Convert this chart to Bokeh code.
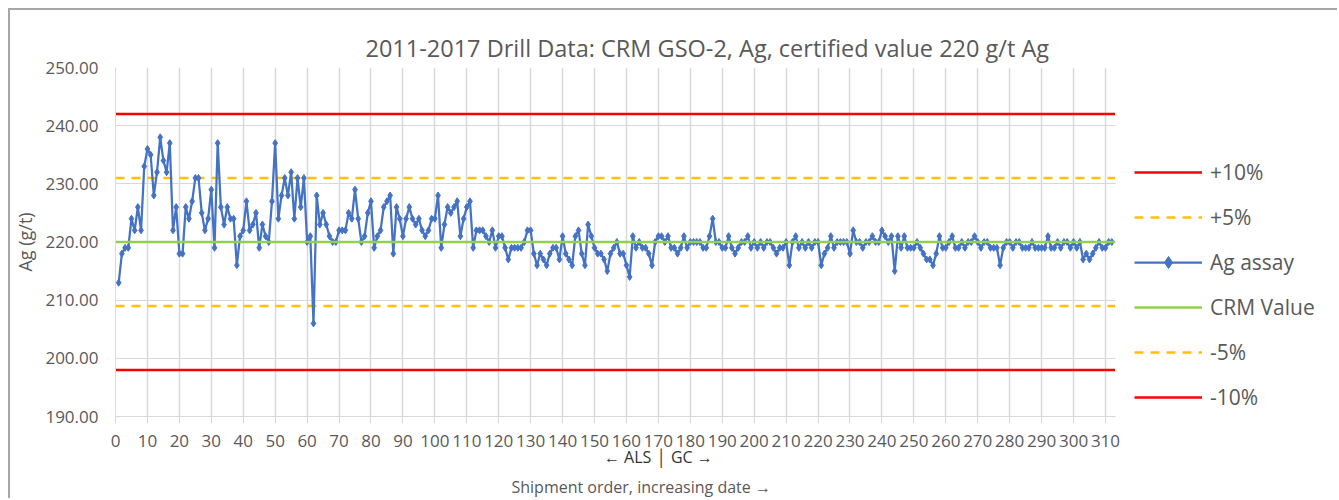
from bokeh.plotting import figure
from bokeh.models import (Range1d, FixedTicker, NumeralTickFormatter, Legend,
                          LegendItem, LinearAxis)
from bokeh.embed import file_html
from bokeh.resources import INLINE

# ---------------- data ----------------
title_text = "2011-2017 Drill Data: CRM GSO-2, Ag, certified value 220 g/t Ag"
x_title = "Shipment order, increasing date \u2192"
y_title = "Ag (g/t)"
lab_split_text = "\u2190 ALS \u2502 GC \u2192"
certified_value = 220
limit_labels = ["+10%", "+5%", "-5%", "-10%"]
limit_pcts = [10, 5, -5, -10]
als_gc_boundary = 170

ag_assay = [
    213, 218, 219, 219, 224, 222, 226, 222, 233, 236,
    235, 228, 232, 238, 234, 232, 237, 222, 226, 218,
    218, 226, 224, 227, 231, 231, 225, 222, 224, 229,
    219, 237, 226, 223, 226, 224, 224, 216, 221, 222,
    227, 222, 223, 225, 219, 223, 221, 220, 227, 237,
    224, 228, 231, 228, 232, 224, 231, 226, 231, 220,
    221, 206, 228, 223, 225, 223, 221, 220, 220, 222,
    222, 222, 225, 224, 229, 224, 220, 221, 225, 227,
    219, 221, 222, 226, 227, 228, 218, 226, 224, 221,
    224, 226, 224, 223, 224, 222, 221, 222, 224, 224,
    228, 219, 223, 226, 225, 226, 227, 221, 224, 226,
    227, 219, 222, 222, 222, 221, 220, 222, 219, 221,
    221, 219, 217, 219, 219, 219, 219, 220, 222, 222,
    218, 216, 218, 217, 216, 218, 219, 219, 217, 221,
    218, 217, 216, 221, 222, 218, 216, 223, 221, 219,
    218, 218, 217, 215, 218, 219, 220, 218, 218, 216,
    214, 221, 219, 220, 219, 219, 218, 216, 220, 221,
    221, 220, 221, 219, 219, 218, 219, 221, 219, 220,
    220, 220, 220, 219, 219, 221, 224, 220, 220, 219,
    219, 221, 219, 218, 219, 220, 220, 221, 219, 220,
    219, 220, 219, 220, 220, 219, 218, 219, 219, 220,
    216, 220, 221, 219, 220, 219, 220, 219, 220, 220,
    216, 218, 219, 221, 219, 220, 220, 220, 220, 218,
    222, 220, 220, 219, 220, 220, 221, 220, 220, 222,
    221, 220, 221, 215, 221, 219, 221, 219, 219, 219,
    220, 219, 218, 217, 217, 216, 218, 221, 219, 219,
    220, 221, 219, 219, 220, 219, 220, 220, 221, 220,
    219, 220, 220, 219, 219, 219, 216, 219, 220, 220,
    219, 220, 220, 219, 219, 219, 220, 219, 219, 219,
    219, 221, 219, 219, 220, 219, 220, 220, 219, 220,
    219, 220, 217, 218, 217, 218, 219, 220, 219, 219,
    220, 220,
]
shipment = list(range(1, len(ag_assay) + 1))

x_ticks = [0, 10, 20, 30, 40, 50, 60, 70, 80, 90, 100, 110, 120, 130, 140, 150,
           160, 170, 180, 190, 200, 210, 220, 230, 240, 250, 260, 270, 280, 290,
           300, 310]
y_ticks = [190, 200, 210, 220, 230, 240, 250]
x_min, x_max = 0, 313
y_min, y_max = 190, 250

# ---------------- styles / layout ----------------
FONT = "Open Sans"
GRAY = "#595959"
GRID = "#D9D9D9"
BLUE = "#4472C4"
GREEN = "#92D050"
RED = "#FF0000"
ORANGE = "#FFC000"

EDGE = 10                                   # page margin + chart border
W, H = 1339 - EDGE, 500 - EDGE
plot_left, plot_right = 112, 1114           # page px of x_min / x_max
frame_top, frame_bottom = 67, 416           # page px of y_max / y_min
frame_right = 1335                          # frame extends under the legend
px_per_x = (plot_right - plot_left) / (x_max - x_min)
x_view_max = x_max + (frame_right - plot_right) / px_per_x
x_title_at = x_min + (639 - plot_left) / px_per_x   # centre of x title

p = figure(width=W, height=H, output_backend="svg", toolbar_location=None,
           x_range=Range1d(x_min, x_view_max), y_range=Range1d(y_min, y_max),
           min_border_left=plot_left - EDGE, min_border_right=1339 - frame_right,
           min_border_top=frame_top - EDGE, min_border_bottom=500 - frame_bottom,
           outline_line_color=None, background_fill_color="white",
           border_fill_color="white",
           styles={"margin-left": "8px", "margin-top": "8px",
                   "border-left": "2px solid #A6A6A6",
                   "border-top": "2px solid #A6A6A6"})

p.title.text = title_text
p.title.align = "left"
p.title.offset = 250
p.title.text_font = FONT
p.title.text_font_size = "23.5px"
p.title.text_font_style = "normal"
p.title.text_color = GRAY
p.title.standoff = 8

# axes
p.xaxis.ticker = FixedTicker(ticks=x_ticks)
p.xaxis.bounds = (x_min, x_max)
p.yaxis.ticker = FixedTicker(ticks=y_ticks)
p.yaxis.formatter = NumeralTickFormatter(format="0.00")
for ax in (p.xaxis[0], p.yaxis[0]):
    ax.axis_line_color = GRID
    ax.axis_line_width = 1
    ax.major_tick_line_color = GRID
    ax.minor_tick_line_color = None
    ax.major_tick_in = 0
    ax.major_label_text_font = FONT
    ax.major_label_text_font_size = "17px"
    ax.major_label_text_color = GRAY
p.xaxis.major_tick_out = 7
p.xaxis.major_label_standoff = 11
p.yaxis.major_tick_out = 0
p.yaxis.major_label_standoff = 17
p.yaxis.axis_label = y_title
p.yaxis.axis_label_text_font = FONT
p.yaxis.axis_label_text_font_size = "18px"
p.yaxis.axis_label_text_font_style = "normal"
p.yaxis.axis_label_text_color = GRAY
p.yaxis.axis_label_standoff = 5


def text_axis(at, text, standoff, size, color):
    ax = LinearAxis(ticker=FixedTicker(ticks=[at]),
                    major_label_overrides={at: text})
    ax.axis_line_color = None
    ax.major_tick_line_color = None
    ax.minor_tick_line_color = None
    ax.major_tick_out = 0
    ax.major_tick_in = 0
    ax.major_label_standoff = standoff
    ax.major_label_text_font = FONT
    ax.major_label_text_font_size = size
    ax.major_label_text_color = color
    p.add_layout(ax, "below")
    return ax


text_axis(als_gc_boundary, lab_split_text, -4, "16px", "#333333")
text_axis(x_title_at, x_title, 5, "16px", GRAY)

# grids
p.xgrid.grid_line_color = GRID
p.xgrid.grid_line_width = 1.5
yg = p.ygrid[0]
if "cross_bounds" in yg.properties():
    yg.cross_bounds = (x_min, x_max)
    yg.grid_line_color = GRID
    yg.grid_line_width = 1
else:
    yg.grid_line_color = None
    p.segment(x0=[x_min] * len(y_ticks), x1=[x_max] * len(y_ticks),
              y0=y_ticks, y1=y_ticks, line_color=GRID, line_width=1)

# series
limit_vals = [certified_value * (1 + q / 100.0) for q in limit_pcts]
limit_colors = [RED, ORANGE, ORANGE, RED]
limit_dash = ["solid", "9 7", "9 7", "solid"]
limit_r = {}
for lab, v, c, d in zip(limit_labels, limit_vals, limit_colors, limit_dash):
    limit_r[lab] = p.line([x_min, x_max], [v, v], line_color=c, line_width=2.5,
                          line_dash=d)

ag_line = p.line(shipment, ag_assay, line_color=BLUE, line_width=2.25)
ag_pts = p.scatter(shipment, ag_assay, marker="diamond", size=7,
                   fill_color=BLUE, line_color=BLUE)
crm_r = p.line([x_min, x_max], [certified_value, certified_value],
               line_color=GREEN, line_width=2.5)

legend = Legend(items=[
    LegendItem(label="+10%", renderers=[limit_r["+10%"]]),
    LegendItem(label="+5%", renderers=[limit_r["+5%"]]),
    LegendItem(label="Ag assay", renderers=[ag_line, ag_pts]),
    LegendItem(label="CRM Value", renderers=[crm_r]),
    LegendItem(label="-5%", renderers=[limit_r["-5%"]]),
    LegendItem(label="-10%", renderers=[limit_r["-10%"]]),
], location=(1131 - plot_left, 4))
legend.glyph_width = 68
legend.glyph_height = 30
legend.label_height = 30
legend.spacing = 15
legend.label_standoff = 8
legend.padding = 0
legend.margin = 0
legend.border_line_color = None
legend.background_fill_alpha = 0
legend.label_text_font = FONT
legend.label_text_font_size = "21px"
legend.label_text_color = GRAY
p.add_layout(legend)

open("out.html", "w").write(file_html(p, INLINE))
